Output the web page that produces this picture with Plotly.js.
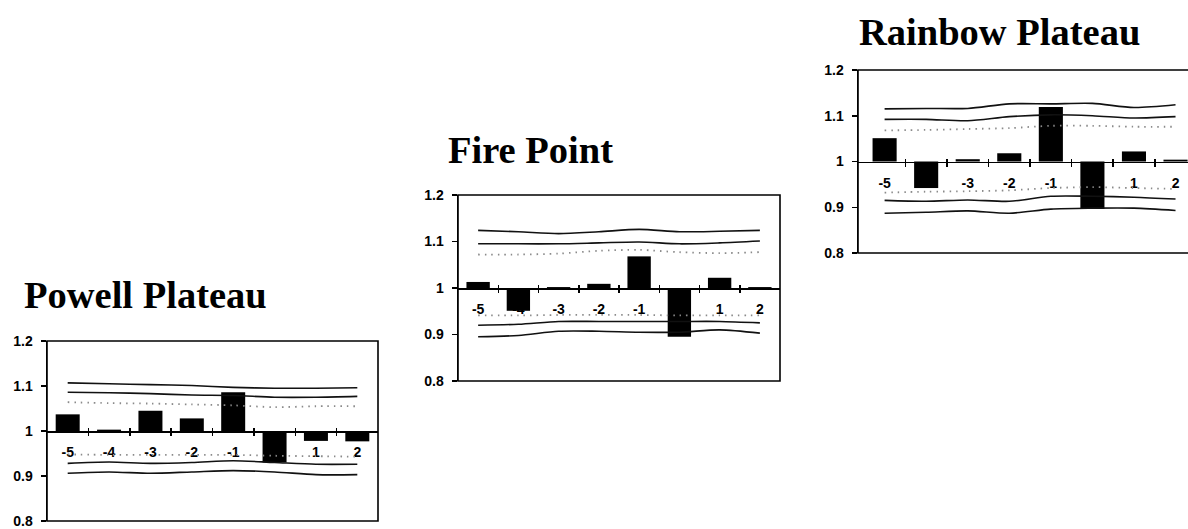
<!DOCTYPE html>
<html>
<head>
<meta charset="utf-8">
<script src="https://cdn.plot.ly/plotly-3.0.1.min.js"></script>
<style>html,body{margin:0;padding:0;background:#fff;}#chart{width:1188px;height:529px;}</style>
</head>
<body>
<div id="chart"></div>
<script>
// ---- data ----
var categories = ['-5', '-4', '-3', '-2', '-1', '0', '1', '2'];
var yTickVals = [0.8, 0.9, 1.0, 1.1, 1.2];
var yTickText = ['0.8', '0.9', '1', '1.1', '1.2'];

var powellTitle = 'Powell Plateau';
var powellBars = [1.037, 1.003, 1.045, 1.028, 1.086, 0.930, 0.978, 0.977];
var powellUpperOuter = [1.107, 1.105, 1.103, 1.101, 1.097, 1.095, 1.095, 1.096];
var powellUpperInner = [1.086, 1.085, 1.083, 1.080, 1.079, 1.075, 1.075, 1.077];
var powellUpperDot = [1.064, 1.062, 1.061, 1.059, 1.057, 1.053, 1.055, 1.055];
var powellLowerDot = [0.948, 0.947, 0.947, 0.947, 0.947, 0.945, 0.944, 0.943];
var powellLowerInner = [0.928, 0.931, 0.928, 0.930, 0.934, 0.930, 0.926, 0.926];
var powellLowerOuter = [0.906, 0.909, 0.906, 0.909, 0.912, 0.909, 0.903, 0.903];

var fireTitle = 'Fire Point';
var fireBars = [1.013, 0.951, 1.002, 1.009, 1.068, 0.895, 1.022, 1.002];
var fireUpperOuter = [1.124, 1.121, 1.117, 1.121, 1.126, 1.121, 1.122, 1.124];
var fireUpperInner = [1.095, 1.095, 1.095, 1.097, 1.099, 1.095, 1.097, 1.101];
var fireUpperDot = [1.072, 1.072, 1.074, 1.080, 1.082, 1.077, 1.075, 1.077];
var fireLowerDot = [0.941, 0.941, 0.942, 0.942, 0.942, 0.941, 0.941, 0.941];
var fireLowerInner = [0.920, 0.922, 0.928, 0.928, 0.928, 0.928, 0.928, 0.925];
var fireLowerOuter = [0.895, 0.898, 0.907, 0.907, 0.905, 0.905, 0.910, 0.903];

var rainbowTitle = 'Rainbow Plateau';
var rainbowBars = [1.051, 0.942, 1.005, 1.018, 1.119, 0.896, 1.022, 1.004];
var rainbowUpperOuter = [1.115, 1.116, 1.116, 1.126, 1.126, 1.127, 1.118, 1.124];
var rainbowUpperInner = [1.092, 1.092, 1.089, 1.098, 1.102, 1.100, 1.095, 1.098];
var rainbowUpperDot = [1.068, 1.069, 1.071, 1.073, 1.078, 1.078, 1.076, 1.076];
var rainbowLowerDot = [0.932, 0.934, 0.935, 0.937, 0.942, 0.944, 0.942, 0.940];
var rainbowLowerInner = [0.915, 0.913, 0.916, 0.913, 0.924, 0.924, 0.922, 0.918];
var rainbowLowerOuter = [0.887, 0.889, 0.892, 0.887, 0.896, 0.898, 0.898, 0.893];

// ---- layout geometry (pixels) ----
var W = 1188, H = 529;
var panels = [
  {title: powellTitle, bars: powellBars,
   lines: [powellUpperOuter, powellUpperInner, powellUpperDot, powellLowerDot, powellLowerInner, powellLowerOuter],
   box: {l: 47, r: 378, t: 341, b: 521}, xr: [-0.5, 7.5], frameR: 1, titlePos: {x: 22, y: 295}},
  {title: fireTitle, bars: fireBars,
   lines: [fireUpperOuter, fireUpperInner, fireUpperDot, fireLowerDot, fireLowerInner, fireLowerOuter],
   box: {l: 458, r: 780, t: 195, b: 381}, xr: [-0.5, 7.5], frameR: 1, titlePos: {x: 446, y: 150}},
  {title: rainbowTitle, bars: rainbowBars,
   lines: [rainbowUpperOuter, rainbowUpperInner, rainbowUpperDot, rainbowLowerDot, rainbowLowerInner, rainbowLowerOuter],
   box: {l: 858, r: 1188, t: 70, b: 253}, xr: [-0.64, 7.3], frameR: 1.05, titlePos: {x: 857, y: 32}}
];
var lineDots = [false, false, true, true, false, false];

var tickFont = {family: 'Liberation Sans, Arial, sans-serif', size: 14, color: '#000', weight: 'bold'};
var traces = [];
var layout = {
  width: W, height: H, margin: {l: 0, r: 0, t: 0, b: 0},
  paper_bgcolor: '#fff', plot_bgcolor: 'rgba(0,0,0,0)',
  showlegend: false, bargap: 0.42,
  shapes: [], annotations: []
};

panels.forEach(function (p, i) {
  var k = i + 1;
  var xs = k === 1 ? '' : String(k);
  var xo = String(k + 3);
  var xd = [p.box.l / W, p.box.r / W];
  var yd = [1 - p.box.b / H, 1 - p.box.t / H];
  var mid = (yd[0] + yd[1]) / 2;

  // bars measured from the baseline 1
  traces.push({
    type: 'bar', x: categories, y: p.bars.map(function (v) { return v - 1; }), base: 1,
    marker: {color: '#000', line: {width: 0}},
    xaxis: 'x' + xs, yaxis: 'y' + xs, hoverinfo: 'skip'
  });
  p.lines.forEach(function (arr, j) {
    traces.push({
      type: 'scatter', mode: 'lines', x: categories, y: arr,
      line: lineDots[j] ? {color: '#8a8a8a', width: 1.8, dash: '1.5px,5px', shape: 'spline', smoothing: 0.8}
                        : {color: '#111', width: 1.6, shape: 'spline', smoothing: 0.8},
      xaxis: 'x' + xs, yaxis: 'y' + xs, hoverinfo: 'skip'
    });
  });
  // dummy trace for the boundary-tick overlay axis
  traces.push({type: 'scatter', mode: 'markers', x: [], y: [], xaxis: 'x' + xo, yaxis: 'y' + xs, hoverinfo: 'skip'});

  layout['xaxis' + xs] = {
    domain: xd, type: 'category', categoryarray: categories, categoryorder: 'array', range: p.xr,
    anchor: 'free', position: mid, showline: true, linewidth: 1.5, linecolor: '#000',
    ticks: '', showgrid: false, zeroline: false, tickfont: tickFont,
    ticklabelstandoff: 8, layer: 'below traces', fixedrange: true
  };
  layout['xaxis' + xo] = {
    domain: xd, type: 'linear', range: p.xr, overlaying: 'x' + xs,
    anchor: 'free', position: mid + 4 / H,
    tickmode: 'array', tickvals: categories.slice(1).map(function (c, j) { return j + 0.5; }),
    ticks: 'outside', ticklen: 8, tickwidth: 1.5, tickcolor: '#000',
    showticklabels: false, showline: false, showgrid: false, zeroline: false, fixedrange: true
  };
  layout['yaxis' + xs] = {
    domain: yd, range: [0.8, 1.2], anchor: 'x' + xs,
    tickmode: 'array', tickvals: yTickVals, ticktext: yTickText,
    ticks: 'outside', ticklen: 5, tickwidth: 1.5, tickcolor: '#000',
    showline: true, linewidth: 1.5, linecolor: '#000', ticklabeloverflow: 'allow',
    ticklabelstandoff: 5,
    showgrid: false, zeroline: false, tickfont: tickFont, fixedrange: true
  };
  layout.shapes.push({
    type: 'rect', xref: 'x' + xs + ' domain', yref: 'y' + xs + ' domain',
    x0: 0, x1: p.frameR, y0: 0, y1: 1, line: {color: '#000', width: 1.6}, fillcolor: 'rgba(0,0,0,0)'
  });
  layout.annotations.push({
    xref: 'paper', yref: 'paper', x: p.titlePos.x / W, y: 1 - p.titlePos.y / H,
    xanchor: 'left', yanchor: 'middle', showarrow: false,
    text: '<b>' + p.title + '</b>',
    font: {family: 'Liberation Serif, Times New Roman, serif', size: 38.5, color: '#000'}
  });
});

Plotly.newPlot('chart', traces, layout, {staticPlot: true, displayModeBar: false});
</script>
</body>
</html>
